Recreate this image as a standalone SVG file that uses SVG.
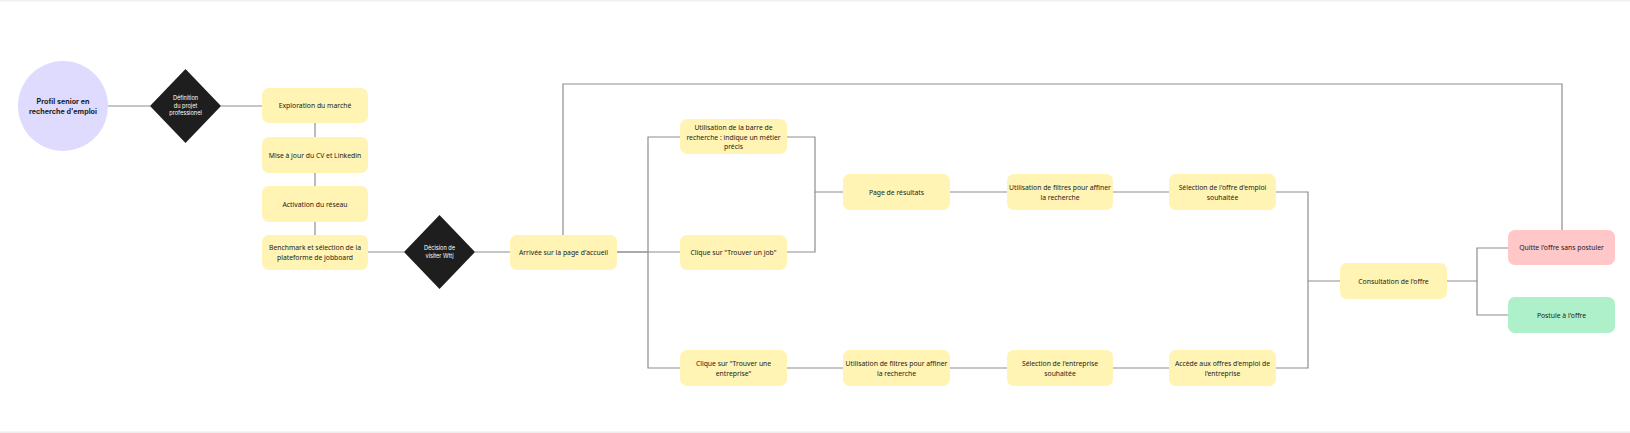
<svg xmlns="http://www.w3.org/2000/svg" width="1630" height="433" viewBox="0 0 1630 433">
<style>
.bg{fill:#ffffff}
.box{fill:#FFF4B3;stroke:none}
.red{fill:#FFC7C7}
.green{fill:#AEF0C9}
.circ{fill:#DEDBFF}
.dia{fill:#1E1E1E}
.t{font-family:"Noto Sans","Open Sans",sans-serif;font-size:6.8px;fill:#1A1A1A;text-anchor:middle}
.tb{font-family:Inter,"Noto Sans",sans-serif;font-size:7.2px;font-weight:700;fill:#1E1E1E;text-anchor:middle}
.tw{font-family:Inter,"Noto Sans",sans-serif;font-size:5.6px;fill:#FFFFFF;text-anchor:middle}
.c{fill:none;stroke:#8E8E8E;stroke-width:1.2}
</style>
<rect class="bg" x="0" y="0" width="1630" height="433"/>
<rect x="0" y="0" width="1630" height="1.5" fill="#F0F0EC"/>
<rect x="0" y="431.5" width="1630" height="1.5" fill="#EEEEEE"/>
<g id="connectors">
<path class="c" d="M108 106 H150"/>
<path class="c" d="M221 106 H262"/>
<path class="c" d="M315 123 V137"/>
<path class="c" d="M315 173 V186"/>
<path class="c" d="M315 222 V235"/>
<path class="c" d="M368 252 H404"/>
<path class="c" d="M475 252 H510"/>
<path class="c" d="M563 235 V84 H1562 V230"/>
<path class="c" d="M617 252 H648 V137 H680"/>
<path class="c" d="M617 252 H680"/>
<path class="c" d="M648 252 V368 H680"/>
<path class="c" d="M787 137 H815 V192 H843"/>
<path class="c" d="M787 252 H815 V192"/>
<path class="c" d="M950 192 H1007"/>
<path class="c" d="M1113 192 H1169"/>
<path class="c" d="M1276 192 H1308 V281 H1340"/>
<path class="c" d="M787 368 H843"/>
<path class="c" d="M950 368 H1007"/>
<path class="c" d="M1113 368 H1169"/>
<path class="c" d="M1276 368 H1308 V281"/>
<path class="c" d="M1447 281 H1477 V248 H1508"/>
<path class="c" d="M1477 281 V315 H1508"/>
</g>
<g id="profil">
<circle class="circ" cx="63" cy="106" r="45"/>
<text class="tb" x="63" y="104">Profil senior en</text>
<text class="tb" x="63" y="114">recherche d'emploi</text>
</g>
<g id="definition">
<polygon class="dia" points="185.5,69 221,106 185.5,143 150,106"/>
<text class="tw" x="185.5" y="100">Définition</text>
<text class="tw" x="185.5" y="107.5">du projet</text>
<text class="tw" x="185.5" y="115">professionel</text>
</g>
<g id="exploration">
<rect class="box" x="262" y="88" width="106" height="35" rx="7"/>
<text class="t" x="315" y="108">Exploration du marché</text>
</g>
<g id="miseajour">
<rect class="box" x="262" y="137" width="106" height="36" rx="7"/>
<text class="t" x="315" y="157.5">Mise à jour du CV et Linkedin</text>
</g>
<g id="activation">
<rect class="box" x="262" y="186" width="106" height="36" rx="7"/>
<text class="t" x="315" y="206.5">Activation du réseau</text>
</g>
<g id="benchmark">
<rect class="box" x="262" y="235" width="106" height="35" rx="7"/>
<text class="t" x="315" y="250">Benchmark et sélection de la</text>
<text class="t" x="315" y="259.5">plateforme de jobboard</text>
</g>
<g id="decision">
<polygon class="dia" points="439.5,215 475,252 439.5,289 404,252"/>
<text class="tw" x="439.5" y="250">Décision de</text>
<text class="tw" x="439.5" y="258">visiter Wttj</text>
</g>
<g id="arrivee">
<rect class="box" x="510" y="235" width="107" height="35" rx="7"/>
<text class="t" x="563.5" y="254.5">Arrivée sur la page d'accueil</text>
</g>
<g id="barre">
<rect class="box" x="680" y="119" width="107" height="35" rx="7"/>
<text class="t" x="733.5" y="130">Utilisation de la barre de</text>
<text class="t" x="733.5" y="139.5">recherche : indique un métier</text>
<text class="t" x="733.5" y="149">précis</text>
</g>
<g id="trouverjob">
<rect class="box" x="680" y="235" width="107" height="35" rx="7"/>
<text class="t" x="733.5" y="254.5">Clique sur "Trouver un job"</text>
</g>
<g id="resultats">
<rect class="box" x="843" y="174" width="107" height="36" rx="7"/>
<text class="t" x="896.5" y="194.5">Page de résultats</text>
</g>
<g id="filtres1">
<rect class="box" x="1007" y="174" width="106" height="36" rx="7"/>
<text class="t" x="1060" y="190">Utilisation de filtres pour affiner</text>
<text class="t" x="1060" y="199.5">la recherche</text>
</g>
<g id="selectionoffre">
<rect class="box" x="1169" y="174" width="107" height="36" rx="7"/>
<text class="t" x="1222.5" y="190">Sélection de l'offre d'emploi</text>
<text class="t" x="1222.5" y="199.5">souhaitée</text>
</g>
<g id="trouverentreprise">
<rect class="box" x="680" y="350" width="107" height="36" rx="7"/>
<text class="t" x="733.5" y="366">Clique sur "Trouver une</text>
<text class="t" x="733.5" y="375.5">entreprise"</text>
</g>
<g id="filtres2">
<rect class="box" x="843" y="350" width="107" height="36" rx="7"/>
<text class="t" x="896.5" y="366">Utilisation de filtres pour affiner</text>
<text class="t" x="896.5" y="375.5">la recherche</text>
</g>
<g id="selectionentreprise">
<rect class="box" x="1007" y="350" width="106" height="36" rx="7"/>
<text class="t" x="1060" y="366">Sélection de l'entreprise</text>
<text class="t" x="1060" y="375.5">souhaitée</text>
</g>
<g id="accede">
<rect class="box" x="1169" y="350" width="107" height="36" rx="7"/>
<text class="t" x="1222.5" y="366">Accède aux offres d'emploi de</text>
<text class="t" x="1222.5" y="375.5">l'entreprise</text>
</g>
<g id="consultation">
<rect class="box" x="1340" y="263" width="107" height="36" rx="7"/>
<text class="t" x="1393.5" y="283.5">Consultation de l'offre</text>
</g>
<g id="quitte">
<rect class="red" x="1508" y="230" width="107" height="35" rx="7"/>
<text class="t" x="1561.5" y="250">Quitte l'offre sans postuler</text>
</g>
<g id="postule">
<rect class="green" x="1508" y="297" width="107" height="36" rx="7"/>
<text class="t" x="1561.5" y="317.5">Postule à l'offre</text>
</g>
</svg>
